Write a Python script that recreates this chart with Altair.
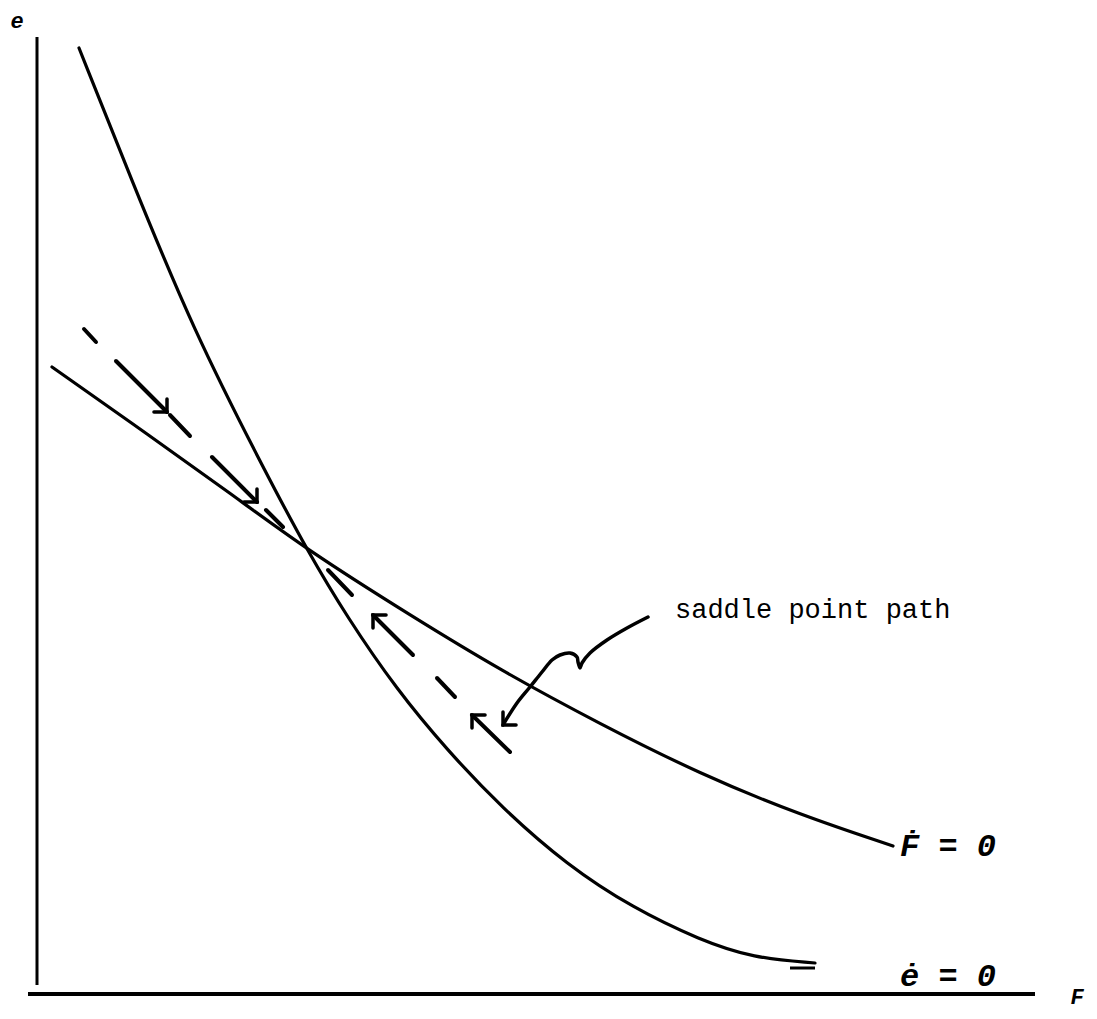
import altair as alt
import pandas as pd

# ---- data (units: F horizontal, e vertical) ----
# e-dot = 0 curve (steep)
edot_F = [4.2, 9.3, 15.6, 23.1, 27.0, 31.0, 36.0, 41.0, 46.5, 53.0, 59.6, 66.3, 71.6, 77.8]
edot_e = [94.6, 81.8, 66.4, 51.7, 44.4, 37.7, 30.4, 24.4, 18.6, 12.9, 8.6, 5.4, 3.6, 3.1]
# second short stroke at end of e-dot curve
edot_tail_F = [75.3, 77.8]
edot_tail_e = [2.6, 2.6]

# F-dot = 0 curve (flatter)
fdot_F = [1.5, 11.3, 19.3, 27.0, 37.6, 46.3, 56.3, 66.3, 76.3, 85.6]
fdot_e = [62.7, 55.8, 50.1, 44.4, 37.7, 32.4, 27.0, 22.0, 17.9, 14.8]

# saddle path dashes (start / end)
dash_F1 = [4.7, 7.9, 13.3, 17.5, 22.9, 29.1, 33.6, 40.0, 43.5]
dash_e1 = [66.5, 63.3, 57.9, 53.7, 48.4, 42.4, 37.9, 31.6, 27.9]
dash_F2 = [5.9, 13.0, 15.3, 22.0, 24.6, 31.5, 37.6, 41.8, 47.3]
dash_e2 = [65.2, 58.2, 55.8, 49.2, 46.7, 39.9, 33.9, 29.7, 24.2]

# arrowheads (tip position, direction in degrees clockwise from right)
head_F = [13.0, 22.0, 33.6, 43.5, 46.6]
head_e = [58.2, 49.2, 37.9, 27.9, 26.9]
head_angle = [45, 45, 225, 225, 135]

# curly pointer from the annotation text
curl_F = [61.1, 59.0, 57.0, 55.3, 54.5, 54.3, 54.1, 54.0, 53.3, 52.3, 51.5, 50.5, 49.3, 48.0, 46.6]
curl_e = [37.7, 36.6, 35.4, 34.1, 33.1, 32.6, 33.2, 33.7, 34.1, 33.9, 33.4, 32.2, 30.7, 29.1, 26.9]

# axes
yaxis_e = [95.7, 0.9]
xaxis_F = [-0.9, 99.8]

# labels
label_text = ["Ḟ = 0", "ė = 0", "saddle point path"]
label_F = [86.3, 86.3, 63.8]
label_e = [14.8, 1.8, 38.4]

axis_label_text = ["e", "F"]
axis_label_F = [-2.0, 104.0]
axis_label_e = [97.3, -0.3]

xs = alt.Scale(domain=[-2.9, 105.2], nice=False, zero=False)
ys = alt.Scale(domain=[-1.7, 98.6], nice=False, zero=False)

def X(f="F"):
    return alt.X(f"{f}:Q", scale=xs, axis=None)

def Y(f="e"):
    return alt.Y(f"{f}:Q", scale=ys, axis=None)

curves = pd.concat([
    pd.DataFrame({"F": edot_F, "e": edot_e, "c": "edot"}),
    pd.DataFrame({"F": fdot_F, "e": fdot_e, "c": "fdot"}),
])
curve_layer = alt.Chart(curves).mark_line(
    color="black", strokeWidth=3.2, interpolate="basis", strokeCap="round"
).encode(x=X(), y=Y(), detail="c:N", order="F:Q")

tail_layer = alt.Chart(pd.DataFrame({"F": [edot_tail_F[0]], "F2": [edot_tail_F[1]], "e": [edot_tail_e[0]]})).mark_rule(
    color="black", strokeWidth=3
).encode(x=X(), x2="F2:Q", y=Y())

vaxis = alt.Chart(pd.DataFrame({"F": [0.0], "e": [yaxis_e[0]], "e2": [yaxis_e[1]]})).mark_rule(
    color="black", strokeWidth=3
).encode(x=X(), y=Y(), y2="e2:Q")

haxis = alt.Chart(pd.DataFrame({"F": [xaxis_F[0]], "F2": [xaxis_F[1]], "e": [0.0]})).mark_rule(
    color="black", strokeWidth=4
).encode(x=X(), x2="F2:Q", y=Y())

dashes = pd.DataFrame({"F": dash_F1, "e": dash_e1, "F2": dash_F2, "e2": dash_e2})
dash_layer = alt.Chart(dashes).mark_rule(
    color="black", strokeWidth=4, strokeCap="round"
).encode(x=X(), y=Y(), x2="F2:Q", y2="e2:Q")

heads = pd.DataFrame({"F": head_F, "e": head_e, "a": head_angle})
head_layer = alt.Chart(heads).mark_point(
    shape="M -1 -1 L 0 0 L -1 1", filled=False, color="black", strokeWidth=3.5,
    size=340, opacity=1, strokeCap="round", strokeJoin="miter"
).encode(x=X(), y=Y(), angle=alt.Angle("a:Q", scale=None))

curl = pd.DataFrame({"F": curl_F, "e": curl_e, "i": list(range(len(curl_F)))})
curl_layer = alt.Chart(curl).mark_line(
    color="black", strokeWidth=3.5, interpolate="catmull-rom", strokeCap="round"
).encode(x=X(), y=Y(), order="i:Q")

labels = pd.DataFrame({"t": label_text, "F": label_F, "e": label_e})
eq_layer = alt.Chart(labels.iloc[:2]).mark_text(
    align="left", baseline="middle", font="Liberation Mono", fontSize=32,
    fontStyle="italic", fontWeight="bold", color="black"
).encode(x=X(), y=Y(), text="t:N")
ann_layer = alt.Chart(labels.iloc[2:]).mark_text(
    align="left", baseline="middle", font="Liberation Mono", fontSize=27,
    color="black"
).encode(x=X(), y=Y(), text="t:N")

axis_labels = pd.DataFrame({"t": axis_label_text, "F": axis_label_F, "e": axis_label_e})
axlab_layer = alt.Chart(axis_labels).mark_text(
    align="center", baseline="middle", font="Liberation Mono", fontSize=22,
    fontStyle="italic", fontWeight="bold", color="black"
).encode(x=X(), y=Y(), text="t:N")

chart = alt.layer(
    vaxis, haxis, curve_layer, tail_layer, dash_layer, head_layer, curl_layer,
    eq_layer, ann_layer, axlab_layer
).properties(
    width=1081, height=1003, padding=0, autosize="none", background="white"
).configure_view(stroke=None)

chart.save("out.html", embed_options={"renderer": "svg", "actions": False})
